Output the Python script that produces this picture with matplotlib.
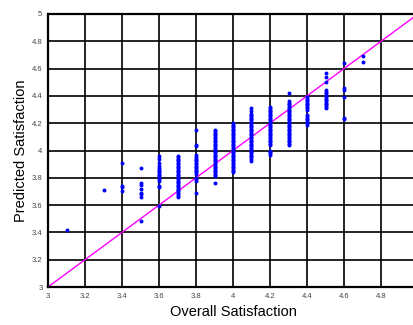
import matplotlib.pyplot as plt
from matplotlib.ticker import FormatStrFormatter
import numpy as np

# observed overall satisfaction levels and the predicted values at each level
overall_levels = [3.1, 3.3, 3.4, 3.5, 3.6, 3.7, 3.8, 3.9, 4.0, 4.1, 4.2, 4.3, 4.4, 4.5, 4.6, 4.7]
predicted = {
    3.1: [3.42],
    3.3: [3.71],
    3.4: [3.91, 3.74, 3.73, 3.70],
    3.5: [3.87, 3.76, 3.75, 3.72, 3.69, 3.68, 3.66, 3.48],
    3.6: [3.96, 3.94, 3.91, 3.89, 3.87, 3.86, 3.85, 3.84, 3.83, 3.82, 3.81, 3.80,
          3.79, 3.78, 3.74, 3.73, 3.59],
    3.7: [3.96, 3.95, 3.94, 3.93, 3.92, 3.91, 3.90, 3.89, 3.88, 3.87, 3.86, 3.85,
          3.84, 3.83, 3.82, 3.81, 3.80, 3.79, 3.78, 3.77, 3.76, 3.75, 3.74, 3.73,
          3.72, 3.71, 3.70, 3.69, 3.68, 3.67, 3.66],
    3.8: [4.15, 4.04, 4.03, 3.97, 3.95, 3.94, 3.93, 3.92, 3.91, 3.90, 3.89, 3.88,
          3.87, 3.86, 3.85, 3.84, 3.83, 3.80, 3.79, 3.78, 3.69],
    3.9: [4.15, 4.14, 4.13, 4.12, 4.11, 4.10, 4.09, 4.08, 4.07, 4.06, 4.05, 4.04,
          4.03, 4.02, 4.01, 4.00, 3.99, 3.98, 3.97, 3.96, 3.95, 3.94, 3.93, 3.92,
          3.91, 3.90, 3.89, 3.88, 3.87, 3.86, 3.85, 3.84, 3.83, 3.82, 3.81, 3.76],
    4.0: [4.20, 4.19, 4.18, 4.17, 4.16, 4.15, 4.14, 4.13, 4.12, 4.11, 4.10, 4.09,
          4.08, 4.07, 4.06, 4.05, 4.04, 4.03, 4.02, 4.01, 4.00, 3.99, 3.98, 3.97,
          3.96, 3.95, 3.94, 3.93, 3.92, 3.91, 3.90, 3.89, 3.88, 3.87, 3.86, 3.85,
          3.84],
    4.1: [4.31, 4.29, 4.27, 4.26, 4.25, 4.24, 4.23, 4.22, 4.21, 4.20, 4.19, 4.18,
          4.17, 4.16, 4.15, 4.14, 4.13, 4.12, 4.11, 4.10, 4.09, 4.08, 4.07, 4.06,
          4.05, 4.04, 4.03, 4.02, 4.01, 4.00, 3.99, 3.98, 3.97, 3.96, 3.95, 3.94,
          3.92],
    4.2: [4.32, 4.31, 4.30, 4.29, 4.28, 4.27, 4.26, 4.25, 4.24, 4.23, 4.22, 4.21,
          4.20, 4.19, 4.18, 4.17, 4.16, 4.15, 4.14, 4.13, 4.12, 4.11, 4.10, 4.09,
          4.08, 4.07, 4.06, 4.05, 4.04, 4.00, 3.99, 3.98, 3.97],
    4.3: [4.42, 4.36, 4.35, 4.34, 4.33, 4.32, 4.31, 4.30, 4.29, 4.28, 4.27, 4.26,
          4.25, 4.24, 4.23, 4.22, 4.21, 4.20, 4.19, 4.18, 4.17, 4.16, 4.15, 4.14,
          4.13, 4.12, 4.11, 4.10, 4.09, 4.08, 4.07, 4.06, 4.05, 4.04],
    4.4: [4.39, 4.38, 4.37, 4.36, 4.35, 4.34, 4.33, 4.32, 4.31, 4.30, 4.26, 4.25,
          4.24, 4.23, 4.22, 4.21, 4.20, 4.19],
    4.5: [4.57, 4.54, 4.50, 4.44, 4.43, 4.42, 4.41, 4.40, 4.39, 4.38, 4.37, 4.36,
          4.35, 4.34, 4.33, 4.32, 4.31],
    4.6: [4.64, 4.46, 4.44, 4.39, 4.24, 4.23],
    4.7: [4.69, 4.65],
}
axis_ticks = [3, 3.2, 3.4, 3.6, 3.8, 4, 4.2, 4.4, 4.6, 4.8, 5]

xs = [lvl for lvl in overall_levels for v in predicted[lvl]]
ys = [v for lvl in overall_levels for v in predicted[lvl]]

plt.rcParams['font.family'] = ['Liberation Sans', 'DejaVu Sans']

fig = plt.figure(figsize=(4.14, 3.25), dpi=100)
ax = fig.add_axes([48 / 414, 38 / 325, 370 / 414, 273 / 325])

ax.set_xlim(3, 5)
ax.set_ylim(3, 5)
ax.set_xticks(axis_ticks)
ax.set_yticks(axis_ticks)
ax.xaxis.set_major_formatter(FormatStrFormatter('%g'))
ax.yaxis.set_major_formatter(FormatStrFormatter('%g'))
ax.tick_params(length=0, labelsize=5.5, labelcolor='#444444', pad=4)
ax.grid(True, color='black', linewidth=1.2)
ax.set_axisbelow(True)
for s in ax.spines.values():
    s.set_linewidth(1.6)

ax.plot([3, 5], [3, 5], color='#ff00ff', linewidth=1.0, zorder=2)
ax.scatter(xs, ys, s=8, color='#0000ff', linewidths=0, zorder=3)

ax.set_xlabel('Overall Satisfaction', fontsize=10.5, labelpad=4)
ax.set_ylabel('Predicted Satisfaction', fontsize=10.5, labelpad=3)

fig.savefig('out.png', dpi=100)
